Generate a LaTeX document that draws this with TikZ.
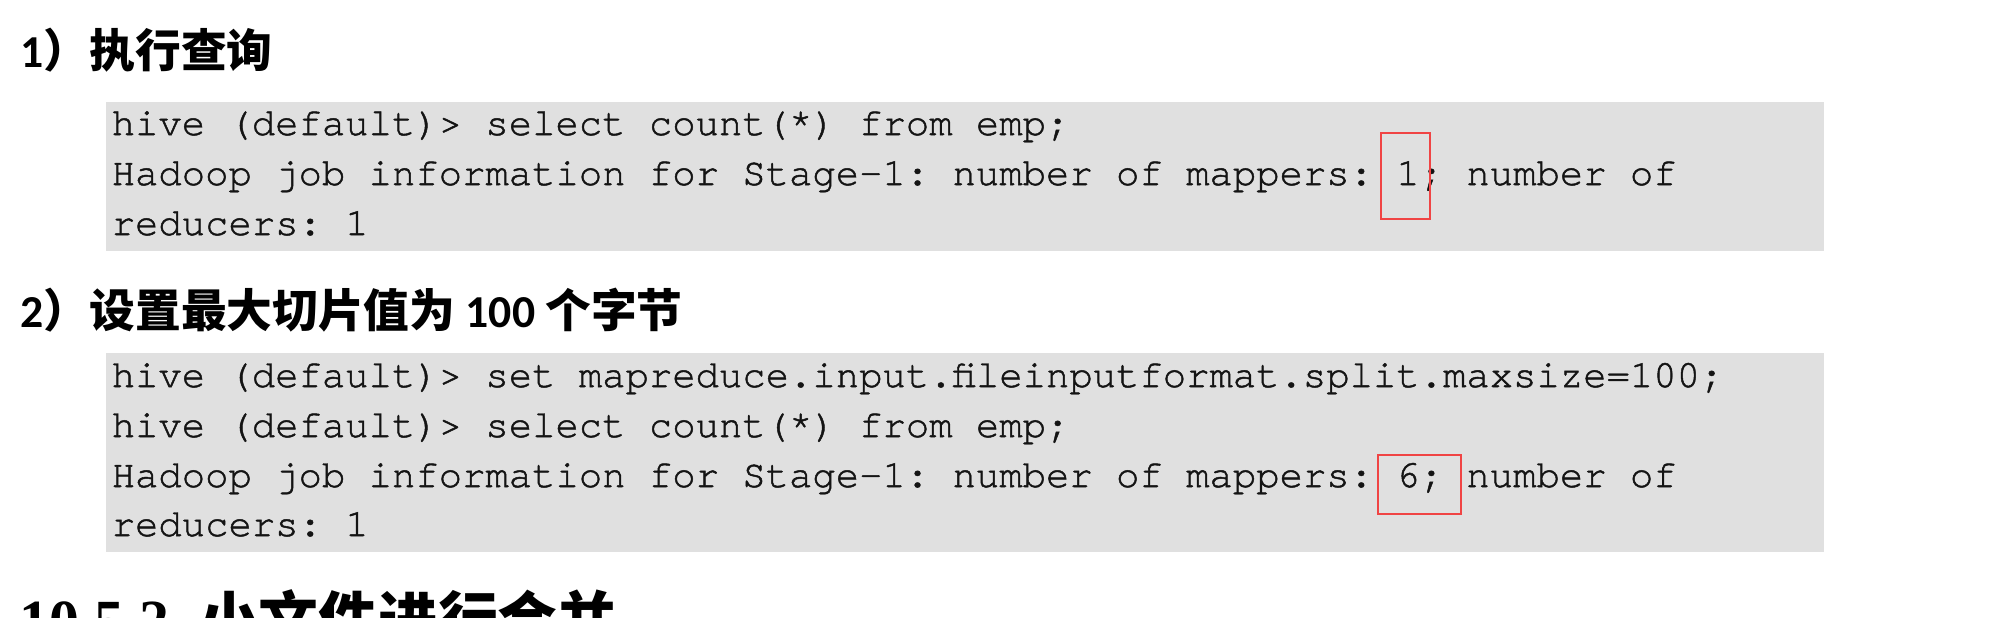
\documentclass[tikz,border=0pt]{standalone}
\usepackage{fontspec}
\usepackage{xcolor}
\setmonofont[FakeBold=1.2]{TeX Gyre Cursor}
\newfontfamily\cjk{Noto Sans CJK SC}
\newfontfamily\numfont{Carlito}
\newfontfamily\secfont{Liberation Serif}
\definecolor{codebg}{HTML}{E0E0E0}
\definecolor{markred}{HTML}{F04444}
\definecolor{codeink}{HTML}{141414}
\tikzset{codeline/.style={anchor=base west,inner sep=0pt,font=\fontsize{11.07}{14}\selectfont\ttfamily,text=codeink}}
\tikzset{headline/.style={anchor=base west,inner sep=0pt,font=\fontsize{13}{15}\selectfont\bfseries}}
\tikzset{markbox/.style={draw=markred,line width=0.6pt}}

\begin{document}
\begin{tikzpicture}[x=0.01cm,y=-0.01cm]
            % page size
            \useasboundingbox (0,0) rectangle (2000,617);
            % step 1
            \node[headline] (head1) at (20,67) {{\numfont 1}{\cjk ）执行查询}};
            \fill[codebg] (106,102) rectangle (1824,251);
            \node[codeline] (q1a) at (111,135) {hive (default)> select count(*) from emp;};
            \node[codeline] (q1b) at (111,185) {Hadoop job information for Stage-1: number of mappers: 1; number of};
            \node[codeline] (q1c) at (111,235) {reducers: 1};
            \draw[markbox] (1381,133) rectangle (1430,219);
            % step 2
            \node[headline] (head2) at (20,327) {{\numfont 2}{\cjk ）设置最大切片值为}{\numfont\ 100\ }{\cjk 个字节}};
            \fill[codebg] (106,353) rectangle (1824,552);
            \node[codeline] (q2a) at (111,387) {hive (default)> set mapreduce.input.fileinputformat.split.maxsize=100;};
            \node[codeline] (q2b) at (111,437) {hive (default)> select count(*) from emp;};
            \node[codeline] (q2c) at (111,487) {Hadoop job information for Stage-1: number of mappers: 6; number of};
            \node[codeline] (q2d) at (111,536) {reducers: 1};
            \draw[markbox] (1378,455) rectangle (1461,514);
            % next section (cut off)
            \node[anchor=base west,inner sep=0pt,font=\fontsize{17}{20}\selectfont\bfseries] (sec) at (19,641)
                {{\secfont 10.5.2\ \ }{\cjk 小文件进行合并}};
        \end{tikzpicture}
\end{document}
